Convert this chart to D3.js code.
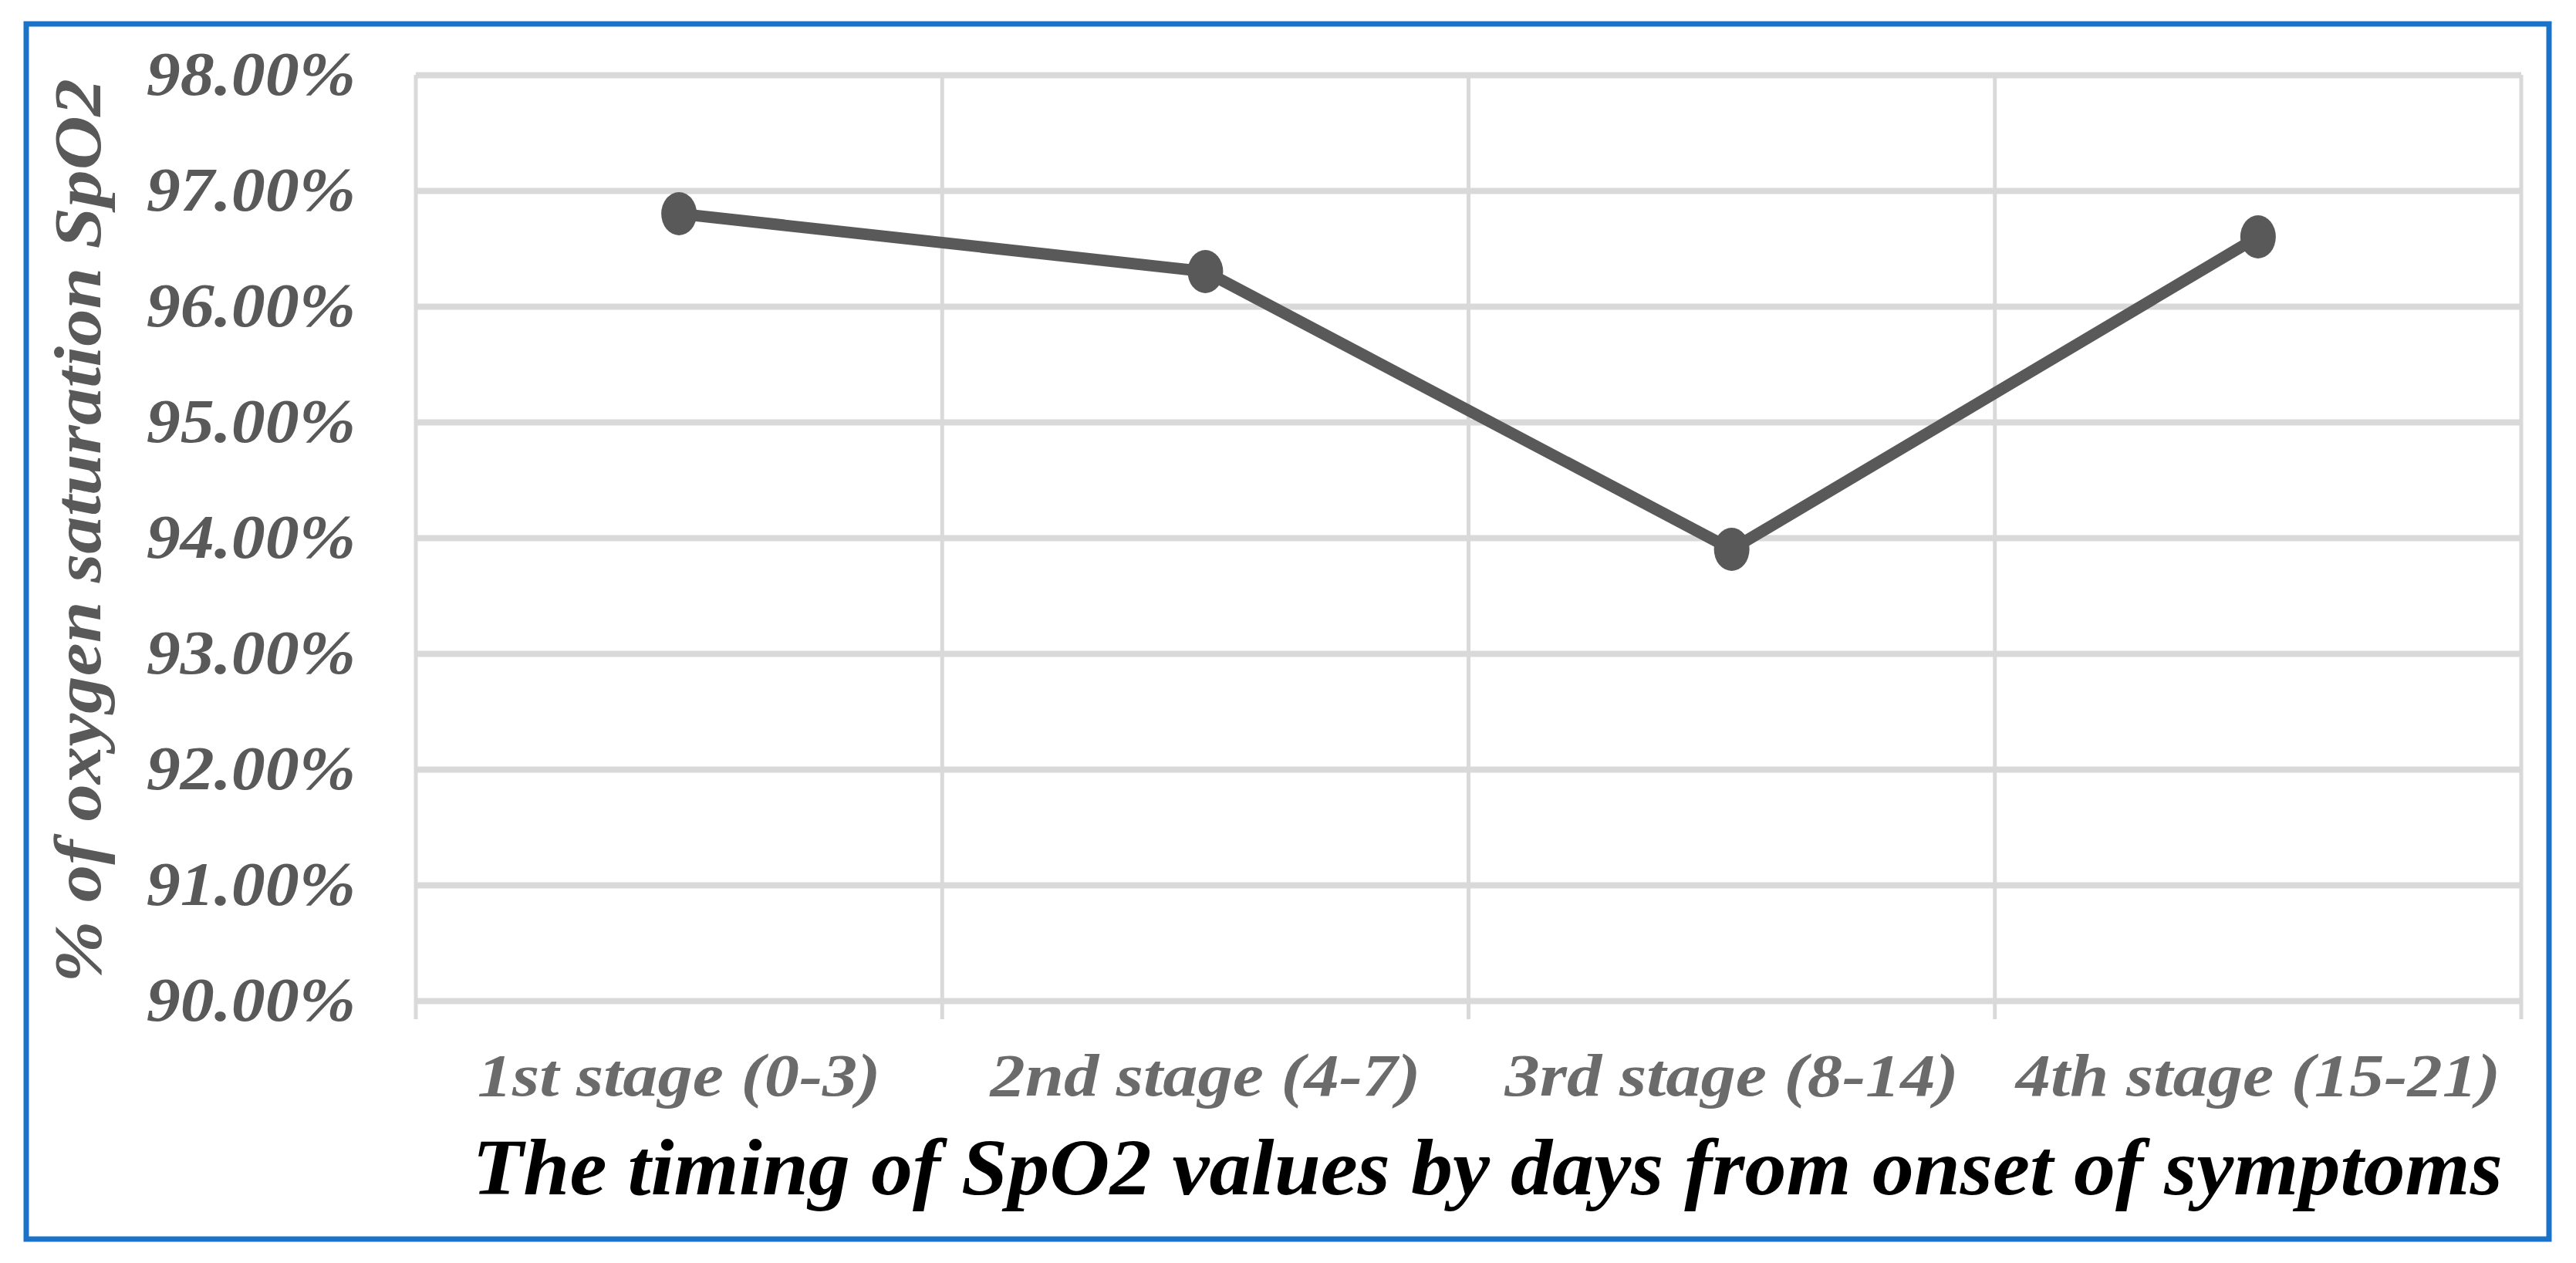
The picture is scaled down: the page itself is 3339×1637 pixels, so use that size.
<!DOCTYPE html>
<html>
<head>
<meta charset="utf-8">
<script src="https://cdn.jsdelivr.net/npm/d3@7"></script>
<style>
  body { margin: 0; background: #fff; }
  svg { display: block; }
</style>
</head>
<body>
<div id="chart"></div>
<script>
// data
const stages = ["1st stage (0-3)", "2nd stage (4-7)", "3rd stage (8-14)", "4th stage (15-21)"];
const spo2 = [96.8, 96.3, 93.9, 96.6];
const yTicks = [90, 91, 92, 93, 94, 95, 96, 97, 98];
const xTitle = "The timing of SpO2 values by days from onset of symptoms";
const yTitle = "% of oxygen saturation SpO2";

const W = 3339, H = 1637;
const plotL = 539, plotR = 3268, plotT = 97, plotB = 1297;
const font = "'Liberation Serif', 'DejaVu Serif', serif";

const svg = d3.select("#chart").append("svg")
    .attr("width", W)
    .attr("height", H);

svg.append("rect")
    .attr("x", 34).attr("y", 31)
    .attr("width", 3270).attr("height", 1575)
    .attr("fill", "#fff")
    .attr("stroke", "#1a73c9")
    .attr("stroke-width", 7);

const x = d3.scaleBand().domain(stages).range([plotL, plotR]).padding(0);
const y = d3.scaleLinear().domain([90, 98]).range([plotB, plotT]);

// the picture's font is wider than Liberation Serif: stretch each text
function widen(sel, k) {
    sel.each(function () {
        const len = this.getComputedTextLength();
        d3.select(this).attr("textLength", len * k).attr("lengthAdjust", "spacingAndGlyphs");
    });
}

function styleText(sel, size, color) {
    sel.attr("fill", color)
        .style("font-family", font)
        .style("font-size", size + "px")
        .style("font-style", "italic")
        .style("font-weight", "bold");
}

// vertical grid at band edges, with tick stubs below the axis
const edges = stages.map(d => x(d)).concat([plotR]);
svg.append("g").selectAll("line")
    .data(edges)
    .enter().append("line")
    .attr("x1", d => d).attr("x2", d => d)
    .attr("y1", plotT).attr("y2", plotB + 24)
    .attr("stroke", "#d9d9d9")
    .attr("stroke-width", 5);

// horizontal grid + y labels
const yAxis = svg.append("g")
    .attr("transform", `translate(${plotL},0)`)
    .call(d3.axisLeft(y)
        .tickValues(yTicks)
        .tickSize(-(plotR - plotL))
        .tickPadding(78)
        .tickFormat(d => d.toFixed(2) + "%"));
yAxis.select(".domain").remove();
yAxis.selectAll("line")
    .attr("stroke", "#d9d9d9")
    .attr("stroke-width", 8);
yAxis.selectAll("text")
    .call(styleText, 80, "#595959")
    .call(widen, 1.1);

// category labels
const xAxis = svg.append("g")
    .attr("transform", `translate(0,${plotB})`)
    .call(d3.axisBottom(x).tickSize(0).tickPadding(68));
xAxis.select(".domain").remove();
xAxis.selectAll("text")
    .call(styleText, 78, "#6b6b6b")
    .call(widen, 1.16);

// the series
const pts = stages.map((d, i) => ({ stage: d, value: spo2[i] }));
const line = d3.line()
    .x(d => x(d.stage) + x.bandwidth() / 2)
    .y(d => y(d.value));

svg.append("path")
    .datum(pts)
    .attr("d", line)
    .attr("fill", "none")
    .attr("stroke", "#595959")
    .attr("stroke-width", 15)
    .attr("stroke-linejoin", "round");

svg.append("g").selectAll("ellipse")
    .data(pts)
    .enter().append("ellipse")
    .attr("cx", d => x(d.stage) + x.bandwidth() / 2)
    .attr("cy", d => y(d.value))
    .attr("rx", 23)
    .attr("ry", 28)
    .attr("fill", "#595959");

// axis titles
svg.append("text")
    .attr("transform", "translate(130,688) rotate(-90)")
    .attr("text-anchor", "middle")
    .call(styleText, 86, "#595959")
    .text(yTitle)
    .call(widen, 1.125);

svg.append("text")
    .attr("x", 1928)
    .attr("y", 1548)
    .attr("text-anchor", "middle")
    .call(styleText, 103, "#000")
    .text(xTitle)
    .call(widen, 1.05);
</script>
</body>
</html>
